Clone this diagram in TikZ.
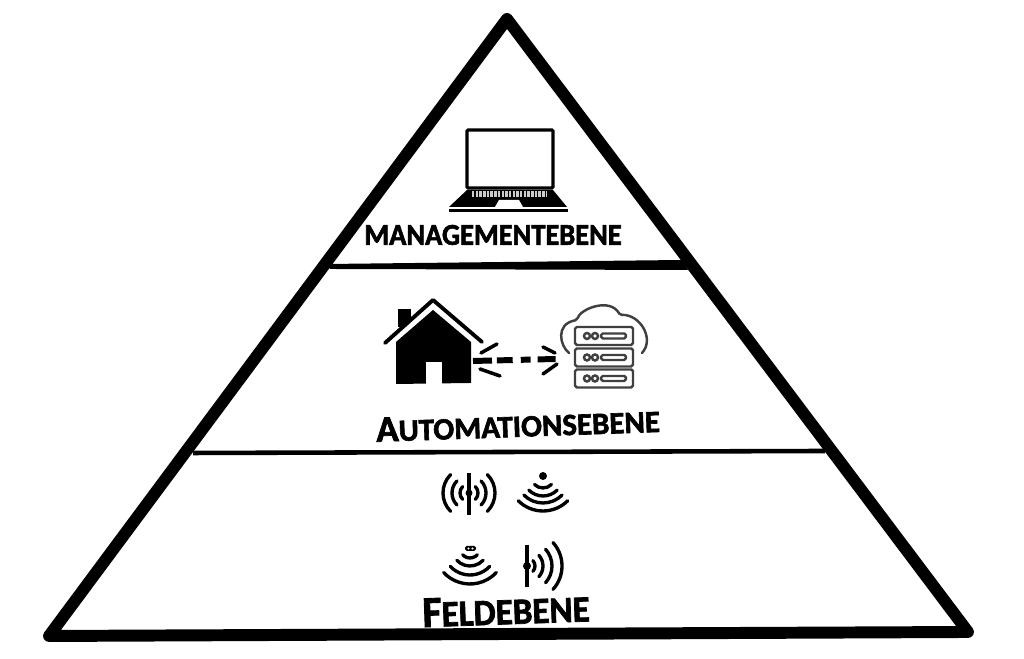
\documentclass[tikz,border=0pt]{standalone}
\usepackage{fontspec}
\setmainfont{Carlito}
\begin{document}
\begin{tikzpicture}

\tikzstyle{leveltext}=[inner sep=0pt, font=\bfseries\addfontfeature{FakeBold=2}]
\tikzstyle{wave}=[line width=0.95pt, line cap=round]
\tikzstyle{mast}=[line width=1pt]
\tikzstyle{rack}=[draw=black!75, line width=0.7pt, rounded corners=0.5pt]
\tikzstyle{barb}=[line width=1pt, line cap=round]

\useasboundingbox (0,0) rectangle (10.24,6.59);

\draw [line width=3.4pt, line join=round] (5.07,6.40) -- (0.49,0.23) -- (9.68,0.27) -- cycle;
\fill (3.28,3.95) -- (6.82,3.99) -- (6.88,3.89) -- (3.30,3.90) -- cycle;
\draw [line width=1.3pt] (1.93,2.06) -- (8.25,2.08);

\draw [line width=0.9pt, rounded corners=0.3pt] (4.67,5.29) rectangle (5.53,4.71);
\fill (4.67,4.69) -- (5.53,4.69) -- (5.67,4.52) -- (4.49,4.52) -- cycle;
\fill (4.49,4.50) rectangle (5.68,4.47);
\foreach \rowy in {4.665,4.635}
  \draw [black!20, line width=0.7pt, dash pattern=on 0.7pt off 0.35pt] (4.72,\rowy) -- (5.47,\rowy);
\fill [white] (4.99,4.59) -- (5.19,4.59) -- (5.23,4.52) -- (4.95,4.52) -- cycle;

\fill (3.98,3.50) rectangle (4.11,3.32);
\fill [white] (3.85,3.16) -- (4.33,3.59) -- (4.82,3.17) -- (4.82,3.10) -- (3.85,3.10) -- cycle;
\fill (4.33,3.49) -- (3.96,3.17) -- (3.96,2.75) -- (4.71,2.76) -- (4.71,3.17) -- cycle;
\fill [white] (4.26,2.97) rectangle (4.42,2.75);
\draw [line width=1.1pt, line cap=round, line join=round] (3.85,3.16) -- (4.33,3.59) -- (4.82,3.17);

\coordinate (homeport) at (4.73,2.98);
\coordinate (cloudport) at (5.56,3.00);
\draw [line width=1.7pt, dash pattern=on 5.4pt off 1.4pt on 4.5pt off 2.3pt on 2.8pt off 2pt on 5.1pt off 2pt] (homeport) -- (cloudport);
\draw [barb] (4.81,3.06) -- (4.97,3.15);
\draw [barb] (4.80,2.90) -- (5.00,2.83);
\draw [barb] (5.43,3.12) -- (5.55,3.06);
\draw [barb] (5.43,2.85) -- (5.57,2.95);

\draw [rack, line cap=round] (5.69,3.06) .. controls (5.60,3.13) and (5.55,3.35) .. (5.77,3.39)
  .. controls (5.80,3.50) and (6.10,3.62) .. (6.20,3.44)
  .. controls (6.40,3.45) and (6.55,3.20) .. (6.42,3.06);
\foreach \racky in {3.23,3.015,2.805} {
  \draw [rack] (5.75,\racky-0.09) rectangle (6.33,\racky+0.09);
  \draw [rack] (5.87,\racky) circle (0.03);
  \draw [rack] (5.95,\racky) circle (0.03);
  \draw [rack] (6.01,\racky-0.025) rectangle (6.26,\racky+0.025);
}

\coordinate (fieldA) at (4.69,1.66);
\draw [mast] (4.69,1.86) -- (4.69,1.44);
\fill (fieldA) circle (0.035);
\foreach \rad in {0.09,0.17,0.26} {
  \draw [wave] (fieldA) ++(-45:\rad) arc [start angle=-45, end angle=45, radius=\rad];
  \draw [wave] (fieldA) ++(135:\rad) arc [start angle=135, end angle=225, radius=\rad];
}

\coordinate (fieldB) at (5.43,1.83);
\fill (fieldB) circle (0.04);
\foreach \rad in {0.12,0.20,0.27,0.35}
  \draw [wave] (fieldB) ++(225:\rad) arc [start angle=225, end angle=315, radius=\rad];

\coordinate (fieldC) at (4.70,1.11);
\fill [rounded corners=0.5pt] (4.65,1.08) rectangle (4.76,1.13);
\fill [white] (4.685,1.105) circle (0.012) (4.725,1.105) circle (0.012);
\foreach \rad in {0.10,0.18,0.27,0.36}
  \draw [wave] (fieldC) ++(223:\rad) arc [start angle=223, end angle=317, radius=\rad];

\coordinate (fieldD) at (5.27,0.93);
\draw [mast] (5.27,1.14) -- (5.27,0.72);
\fill (fieldD) circle (0.04);
\foreach \rad in {0.08,0.16,0.25,0.35}
  \draw [wave] (fieldD) ++(-42:\rad) arc [start angle=-42, end angle=42, radius=\rad];

\node (mgmt) [leveltext] at (4.93,4.24) {\fontsize{8.6}{10}\selectfont\addfontfeature{FakeStretch=0.94} MANAGEMENTEBENE};
\node (auto) [leveltext, rotate=2] at (5.18,2.34) {\fontsize{8.8}{10}\selectfont {\fontsize{10.5}{10}\selectfont A}UTOMATIONSEBENE};
\node (feld) [leveltext, rotate=2] at (5.06,0.49) {\fontsize{10.5}{10}\selectfont\addfontfeature{FakeStretch=0.95} {\fontsize{12.5}{10}\selectfont F}ELDEBENE};

\end{tikzpicture}
\end{document}
